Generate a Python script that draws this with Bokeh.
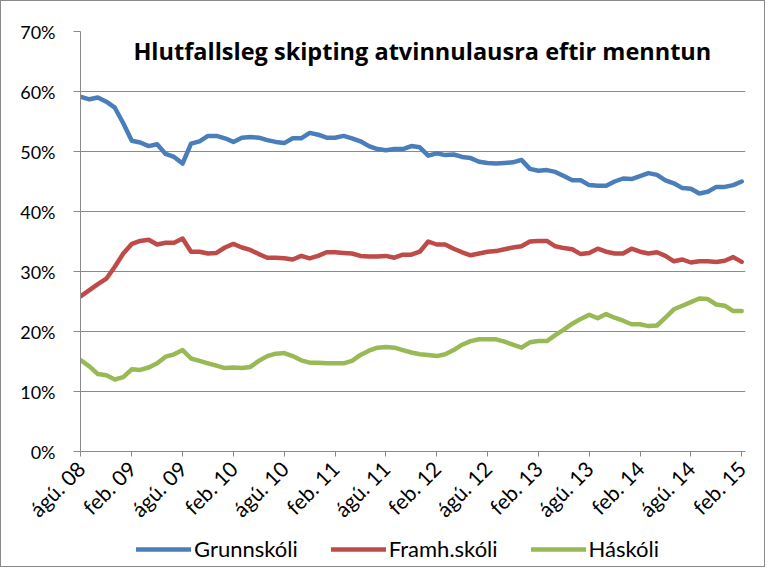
from bokeh.plotting import figure
from bokeh.models import FixedTicker, PrintfTickFormatter, Legend, LegendItem, Label, ColumnDataSource
from bokeh.layouts import column
from bokeh.embed import file_html
from bokeh.resources import INLINE
import math

title_text = "Hlutfallsleg skipting atvinnulausra eftir menntun"
series_names = ["Grunnskóli", "Framh.skóli", "Háskóli"]

grunnskoli = [59.1, 58.7, 59.0, 58.3, 57.3, 54.7, 51.8, 51.5, 50.9, 51.2,
              49.6, 49.1, 48.0, 51.3, 51.7, 52.6, 52.6, 52.2, 51.6, 52.3,
              52.4, 52.3, 51.9, 51.6, 51.4, 52.2, 52.2, 53.1, 52.8, 52.3,
              52.3, 52.6, 52.2, 51.7, 50.9, 50.4, 50.2, 50.4, 50.4, 50.9,
              50.7, 49.3, 49.7, 49.4, 49.5, 49.1, 48.9, 48.3, 48.1, 48.0,
              48.1, 48.2, 48.6, 47.1, 46.8, 46.9, 46.6, 45.9, 45.2, 45.2,
              44.4, 44.3, 44.3, 45.0, 45.5, 45.4, 45.9, 46.4, 46.1, 45.2,
              44.7, 43.9, 43.8, 43.0, 43.3, 44.1, 44.1, 44.4, 45.0]
framhskoli = [25.9, 26.9, 27.9, 28.8, 30.8, 33.0, 34.6, 35.1, 35.3, 34.5,
              34.8, 34.8, 35.5, 33.3, 33.3, 33.0, 33.1, 34.0, 34.6, 34.0,
              33.6, 32.9, 32.3, 32.3, 32.2, 32.0, 32.6, 32.2, 32.6, 33.2,
              33.2, 33.1, 33.0, 32.6, 32.5, 32.5, 32.6, 32.3, 32.8, 32.8,
              33.3, 35.0, 34.5, 34.5, 33.8, 33.2, 32.7, 33.0, 33.3, 33.4,
              33.7, 34.0, 34.2, 35.0, 35.1, 35.1, 34.2, 33.9, 33.7, 32.9,
              33.1, 33.8, 33.3, 33.0, 33.0, 33.8, 33.3, 33.0, 33.2, 32.6,
              31.7, 32.0, 31.5, 31.7, 31.7, 31.6, 31.8, 32.4, 31.6]
haskoli = [15.2, 14.2, 12.9, 12.7, 12.0, 12.4, 13.7, 13.6, 14.0, 14.7,
           15.8, 16.2, 16.9, 15.5, 15.1, 14.7, 14.3, 13.9, 14.0, 13.9,
           14.1, 15.1, 15.9, 16.3, 16.4, 15.9, 15.2, 14.8, 14.8, 14.7,
           14.7, 14.7, 15.1, 16.1, 16.8, 17.3, 17.4, 17.3, 16.9, 16.5,
           16.2, 16.1, 15.9, 16.2, 16.9, 17.8, 18.4, 18.7, 18.7, 18.7,
           18.3, 17.8, 17.3, 18.2, 18.4, 18.4, 19.4, 20.3, 21.3, 22.1,
           22.8, 22.2, 22.9, 22.3, 21.8, 21.2, 21.2, 20.9, 21.0, 22.3,
           23.7, 24.3, 24.9, 25.5, 25.4, 24.5, 24.3, 23.4, 23.4]
tick_labels = ["ágú. 08", "feb. 09", "ágú. 09", "feb. 10", "ágú. 10", "feb. 11",
               "ágú. 11", "feb. 12", "ágú. 12", "feb. 13", "ágú. 13", "feb. 14",
               "ágú. 14", "feb. 15"]
y_ticks = [0, 10, 20, 30, 40, 50, 60, 70]
colors = ["#4A7EBB", "#BE4B48", "#98B954"]

months = list(range(len(grunnskoli)))
x_ticks = [6 * k for k in range(len(tick_labels))]

FONT = "Lato"
GRID = "#8a8a8a"

p = figure(width=763, height=532, output_backend="svg", toolbar_location=None,
           x_range=(-0.05, 78.45), y_range=(0, 70),
           min_border_left=79, min_border_right=19, min_border_top=30, min_border_bottom=82)
p.outline_line_color = None
p.background_fill_color = "white"
p.border_fill_color = "white"

src = ColumnDataSource(dict(x=months, g=grunnskoli, f=framhskoli, h=haskoli))
for col, c in zip(["g", "f", "h"], colors):
    p.line("x", col, source=src, line_color=c, line_width=4.5, line_join="round", line_cap="round")

p.xgrid.grid_line_color = None
p.ygrid.grid_line_color = GRID
p.ygrid.grid_line_width = 1
p.ygrid.ticker = FixedTicker(ticks=y_ticks)

p.yaxis.ticker = FixedTicker(ticks=y_ticks)
p.yaxis.formatter = PrintfTickFormatter(format="%d%%")
p.yaxis.axis_line_color = GRID
p.yaxis.major_tick_line_color = GRID
p.yaxis.major_tick_in = 0
p.yaxis.major_tick_out = 7
p.yaxis.minor_tick_line_color = None
p.yaxis.major_label_text_font = FONT
p.yaxis.major_label_text_font_size = "18px"
p.yaxis.major_label_text_color = "#000000"
p.yaxis.major_label_standoff = 18

p.xaxis.ticker = FixedTicker(ticks=x_ticks)
p.xaxis.major_label_overrides = {t: lab for t, lab in zip(x_ticks, tick_labels)}
p.xaxis.major_label_orientation = math.pi / 4
p.xaxis.axis_line_color = GRID
p.xaxis.major_tick_line_color = GRID
p.xaxis.major_tick_in = 0
p.xaxis.major_tick_out = 5
p.xaxis.minor_tick_line_color = None
p.xaxis.major_label_text_font = FONT
p.xaxis.major_label_text_font_size = "21px"
p.xaxis.major_label_text_color = "#000000"
p.xaxis.major_label_standoff = 8

p.add_layout(Label(x=40.3, y=66.7, text=title_text, text_align="center", text_baseline="middle",
                   text_font="Open Sans", text_font_style="bold", text_font_size="23.5px",
                   text_color="#000000"))

# legend strip below the chart (its lines fall outside its own view range)
leg = figure(width=763, height=33, output_backend="svg", toolbar_location=None,
             x_range=(-200, -100), y_range=(-200, -100),
             min_border_left=0, min_border_right=0, min_border_top=0, min_border_bottom=0)
leg.axis.visible = False
leg.grid.visible = False
leg.outline_line_color = None
leg.background_fill_color = "white"
leg.border_fill_color = "white"
leg_renderers = []
for col, c in zip(["g", "f", "h"], colors):
    r = leg.line("x", col, source=src, line_color=c, line_width=4.5, line_cap="round")
    leg_renderers.append(r)

legend = Legend(items=[LegendItem(label=n, renderers=[r]) for n, r in zip(series_names, leg_renderers)],
                orientation="horizontal", location=(56, 4),
                label_text_font=FONT, label_text_font_size="22px", label_text_color="#000000",
                glyph_width=55, glyph_height=22, label_standoff=3, spacing=33,
                border_line_color=None, background_fill_alpha=0, padding=2, margin=0)
leg.add_layout(legend, "center")

layout = column(p, leg, spacing=0)
layout.styles = {"border": "1px solid #8a8a8a"}

open("out.html", "w").write(file_html(layout, INLINE))
